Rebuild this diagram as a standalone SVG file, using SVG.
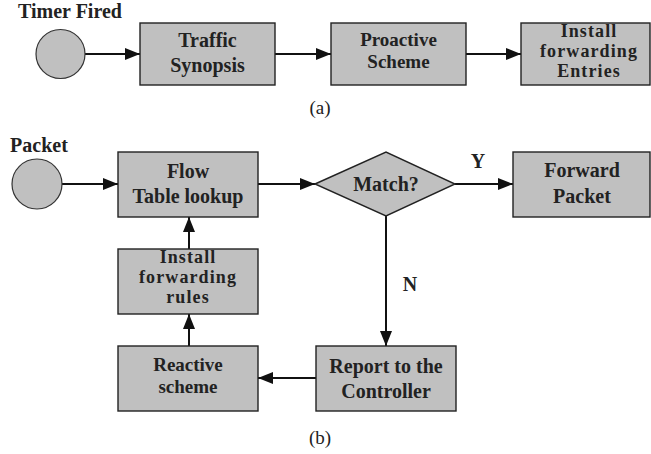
<svg xmlns="http://www.w3.org/2000/svg" width="651" height="454" viewBox="0 0 651 454">
<style>
.box{fill:#c0c0c0;stroke:#222;stroke-width:1.4}
.t{font-family:"Liberation Serif","Times New Roman",serif;font-weight:bold;font-size:20px;fill:#222;text-anchor:middle}
.s{font-size:19px}
.xs{font-size:18px;letter-spacing:1.1px}
.lab{font-family:"Liberation Serif","Times New Roman",serif;font-size:19px;fill:#222;text-anchor:middle}
.c{stroke:#111;stroke-width:2;fill:none;marker-end:url(#ah)}
</style>
<defs>
<marker id="ah" markerUnits="userSpaceOnUse" markerWidth="16" markerHeight="14" refX="15" refY="6" orient="auto">
<path d="M0,0 L15,6 L0,12 Z" fill="#111"/>
</marker>
</defs>
<rect width="651" height="454" fill="#fff"/>
<g id="connectors">
<line class="c" x1="85" y1="54" x2="140" y2="54"/>
<line class="c" x1="275" y1="54" x2="331" y2="54"/>
<line class="c" x1="466" y1="54" x2="521" y2="54"/>
<line class="c" x1="62" y1="184" x2="118" y2="184"/>
<line class="c" x1="258" y1="184" x2="315" y2="184"/>
<line class="c" x1="455" y1="184" x2="513" y2="184"/>
<line class="c" x1="386" y1="216" x2="386" y2="346"/>
<line class="c" x1="316" y1="378" x2="258" y2="378"/>
<line class="c" x1="189" y1="346" x2="189" y2="314"/>
<line class="c" x1="189" y1="249" x2="189" y2="217"/>
<text class="t" x="478" y="168">Y</text>
<text class="t" x="410" y="291">N</text>
</g>
<g id="timer">
<text class="t" x="70" y="18">Timer Fired</text>
<circle cx="60.5" cy="54" r="24.5" fill="#c0c0c0" stroke="#333" stroke-width="1.2"/>
</g>
<g id="traffic">
<rect class="box" x="140" y="23" width="135" height="62"/>
<text class="t" x="207.5" y="47">Traffic</text>
<text class="t" x="207.5" y="72">Synopsis</text>
</g>
<g id="proactive">
<rect class="box" x="331" y="23" width="135" height="62"/>
<text class="t s" x="398.5" y="46">Proactive</text>
<text class="t s" x="398.5" y="68">Scheme</text>
</g>
<g id="install-entries">
<rect class="box" x="521" y="23" width="129" height="62"/>
<text class="t xs" x="589" y="37">Install</text>
<text class="t xs" x="589" y="57">forwarding</text>
<text class="t xs" x="589" y="77">Entries</text>
</g>
<text class="lab" x="320" y="114">(a)</text>
<g id="packet">
<text class="t" x="39" y="152">Packet</text>
<circle cx="37" cy="184" r="25" fill="#c0c0c0" stroke="#333" stroke-width="1.2"/>
</g>
<g id="flow">
<rect class="box" x="118" y="152" width="140" height="65"/>
<text class="t" x="188" y="178">Flow</text>
<text class="t" x="188" y="203">Table lookup</text>
</g>
<g id="match">
<polygon class="box" points="315,184 386,152 455,184 386,216"/>
<text class="t" x="386" y="191">Match?</text>
</g>
<g id="forward">
<rect class="box" x="513" y="152" width="137" height="65"/>
<text class="t" x="582" y="177">Forward</text>
<text class="t" x="582" y="203">Packet</text>
</g>
<g id="install-rules">
<rect class="box" x="118" y="249" width="140" height="65"/>
<text class="t xs" x="188" y="263">Install</text>
<text class="t xs" x="188" y="283">forwarding</text>
<text class="t xs" x="188" y="303">rules</text>
</g>
<g id="reactive">
<rect class="box" x="118" y="346" width="140" height="65"/>
<text class="t s" x="188" y="371">Reactive</text>
<text class="t s" x="188" y="393">scheme</text>
</g>
<g id="report">
<rect class="box" x="316" y="346" width="140" height="65"/>
<text class="t" x="386" y="373">Report to the</text>
<text class="t" x="386" y="398">Controller</text>
</g>
<text class="lab" x="320" y="444">(b)</text>
</svg>
